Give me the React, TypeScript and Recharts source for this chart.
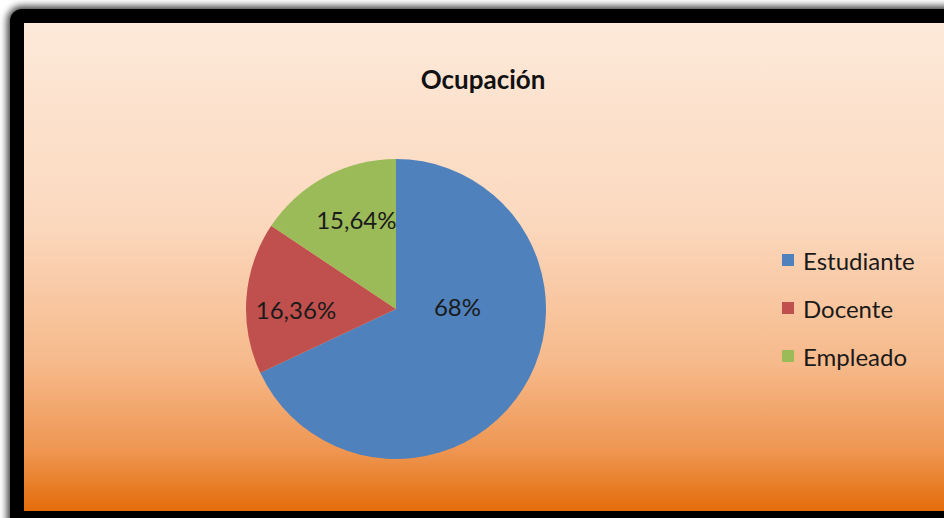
import { PieChart, Pie, Cell, Legend } from 'recharts';

const categories = ['Estudiante', 'Docente', 'Empleado'];
const shares = [68, 16.36, 15.64];
const sliceColors = ['#4F81BD', '#C0504D', '#9BBB59'];
const shareLabels = ['68%', '16,36%', '15,64%'];

const pieData = categories.map((name, i) => ({ name, value: shares[i], label: shareLabels[i] }));

const FONT = 'Lato, "Open Sans", sans-serif';
const RADIAN = Math.PI / 180;

// Excel's "best fit" places labels a bit off the slice bisectors
const labelPlacement: Record<string, { r: number; angle?: number }> = {
  Estudiante: { r: 0.41, angle: 2 },
  Docente: { r: 0.667, angle: 180 },
  Empleado: { r: 0.65, angle: 114 },
};

const renderLabel = (props: any) => {
  const { cx, cy, midAngle, outerRadius, payload } = props;
  const place = labelPlacement[payload.name] || { r: 0.6 };
  const angle = place.angle ?? midAngle;
  const r = outerRadius * place.r;
  const x = cx + r * Math.cos(-angle * RADIAN);
  const y = cy + r * Math.sin(-angle * RADIAN);
  return (
    <text x={x} y={y} fill="#1a1a1a" textAnchor="middle" dominantBaseline="central"
      fontFamily={FONT} fontSize={24}>
      {payload.label}
    </text>
  );
};

const renderLegend = () => (
  <div style={{ fontFamily: FONT, fontSize: 24, color: '#1a1a1a' }}>
    {pieData.map((d, i) => (
      <div key={d.name} style={{ display: 'flex', alignItems: 'center', height: 48 }}>
        <span style={{ width: 12, height: 12, background: sliceColors[i], marginRight: 9 }} />
        <span>{d.name}</span>
      </div>
    ))}
  </div>
);

export default function App() {
  return (
    <div style={{ position: 'absolute', left: 0, top: 0, width: 944, height: 518, overflow: 'hidden', background: '#fff' }}>
      <div style={{
        position: 'absolute', left: 10, top: 9, width: 960, height: 530,
        background: '#000', borderRadius: 12, boxShadow: '0 0 7px 3px rgba(0,0,0,0.75)',
      }} />
      <div style={{
        position: 'absolute', left: 24, top: 23, width: 930, height: 488,
        background: 'linear-gradient(to bottom, #FDE9D9 0%, #FBD9BF 40%, #F6B98A 70%, #EE9550 88%, #E46C0A 100%)',
      }} />
      <div style={{
        position: 'absolute', left: 0, top: 63, width: 966, textAlign: 'center',
        fontFamily: FONT, fontWeight: 700, fontSize: 26, color: '#111',
      }}>
        Ocupación
      </div>
      <PieChart width={944} height={518} margin={{ top: 0, right: 0, bottom: 0, left: 0 }}
        style={{ position: 'absolute', left: 0, top: 0 }}>
        <Pie
          data={pieData}
          dataKey="value"
          nameKey="name"
          cx={396}
          cy={309}
          outerRadius={150}
          startAngle={90}
          endAngle={-270}
          stroke="none"
          label={renderLabel}
          labelLine={false}
          isAnimationActive={false}
        >
          {pieData.map((d, i) => (
            <Cell key={d.name} fill={sliceColors[i]} />
          ))}
        </Pie>
        <Legend
          layout="vertical"
          align="right"
          verticalAlign="top"
          content={renderLegend}
          wrapperStyle={{ left: 782, top: 236, width: 162 }}
        />
      </PieChart>
    </div>
  );
}
